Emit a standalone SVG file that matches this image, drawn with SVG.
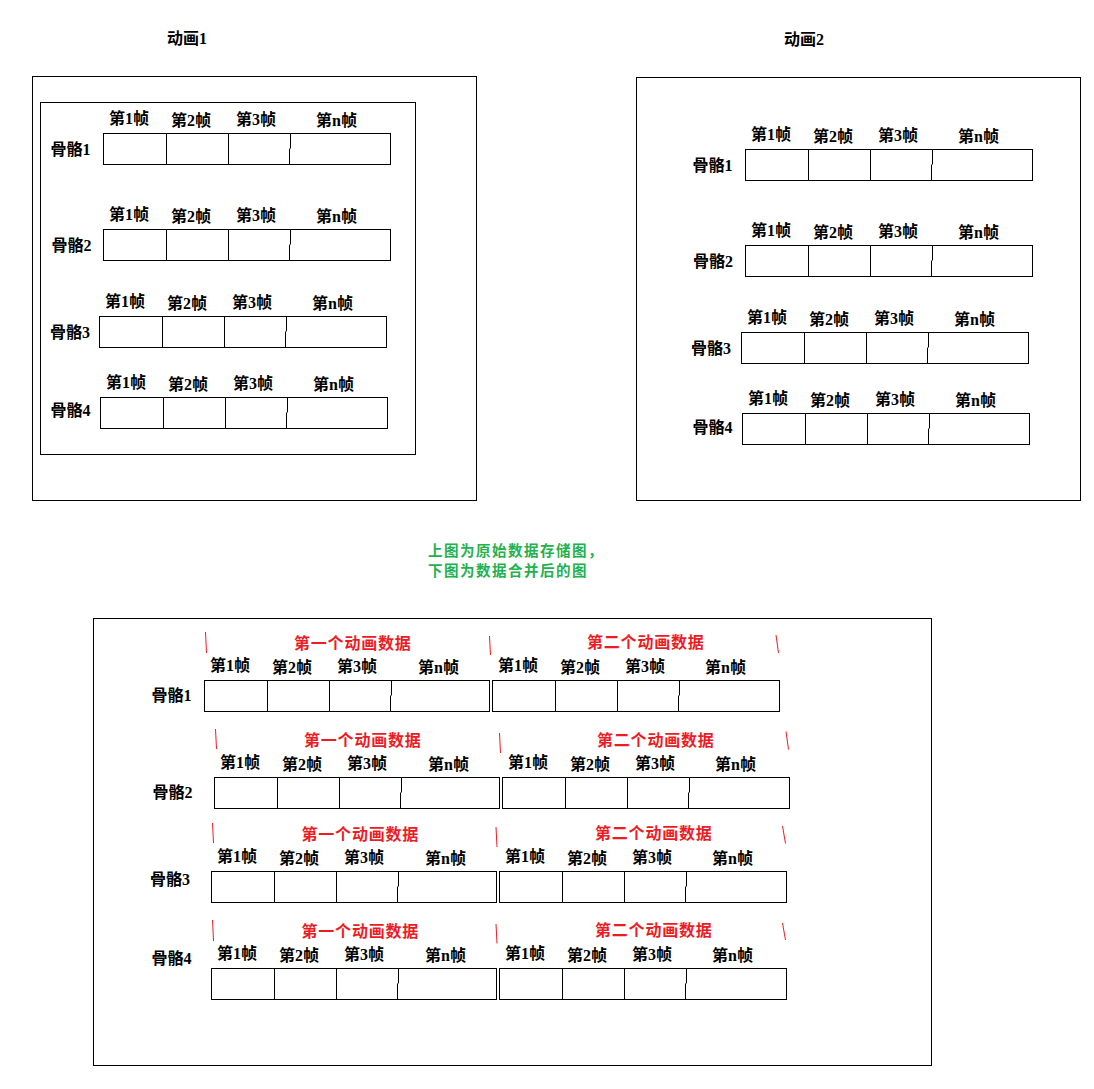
<svg xmlns="http://www.w3.org/2000/svg" width="1094" height="1089" viewBox="0 0 1094 1089">
<style>
.bg{fill:#fff}
.ln{fill:none;stroke:#000;stroke-width:1}
.t{font-family:"Liberation Serif","Noto Sans CJK SC",serif;font-size:16px;font-weight:bold;fill:#000}
.red{font-family:"Liberation Serif","Noto Sans CJK SC",serif;font-size:16px;font-weight:bold;fill:#ed1c24;letter-spacing:0.8px}
.tick{fill:none;stroke:#ed1c24;stroke-width:1}
.green{font-family:"Noto Sans CJK SC",sans-serif;font-size:14.5px;font-weight:bold;fill:#22b14c;letter-spacing:1.5px}
</style>
<rect class="bg" width="1094" height="1089"/>

<g id="anim1">
<text class="t" x="167" y="44">动画1</text>
<rect class="ln" x="32.5" y="76.5" width="444" height="424"/>
<rect class="ln" x="40.5" y="102.5" width="375" height="352"/>
</g>
<g id="anim2">
<text class="t" x="784" y="45">动画2</text>
<rect class="ln" x="636.5" y="77.5" width="444" height="423"/>
</g>
<g id="merged">
<rect class="ln" x="93.5" y="618.5" width="838" height="447"/>
</g>

<g id="bone-labels">
<text class="t" x="50.5" y="155">骨骼1</text>
<text class="t" x="51.5" y="250.5">骨骼2</text>
<text class="t" x="50" y="338">骨骼3</text>
<text class="t" x="50.5" y="416">骨骼4</text>
<text class="t" x="692.5" y="171">骨骼1</text>
<text class="t" x="693" y="266.5">骨骼2</text>
<text class="t" x="691" y="353.5">骨骼3</text>
<text class="t" x="692.5" y="433">骨骼4</text>
<text class="t" x="151.5" y="701">骨骼1</text>
<text class="t" x="152.5" y="797.5">骨骼2</text>
<text class="t" x="150" y="885">骨骼3</text>
<text class="t" x="151.5" y="963.5">骨骼4</text>
</g>

<g id="a1-b1" transform="translate(103.5,133.5)">
<rect class="ln" width="287" height="31"/><path class="ln" d="M63 0V31M125 0V31M187 0V15M186 15V31"/>
<text class="t" x="5.5" y="-9.5">第1帧</text><text class="t" x="67.5" y="-7.5">第2帧</text><text class="t" x="132.5" y="-8.5">第3帧</text><text class="t" x="212.5" y="-8">第n帧</text>
</g>
<g id="a1-b2" transform="translate(103.5,229.5)">
<rect class="ln" width="287" height="31"/><path class="ln" d="M63 0V31M125 0V31M187 0V15M186 15V31"/>
<text class="t" x="5.5" y="-9.5">第1帧</text><text class="t" x="67.5" y="-7.5">第2帧</text><text class="t" x="132.5" y="-8.5">第3帧</text><text class="t" x="212.5" y="-8">第n帧</text>
</g>
<g id="a1-b3" transform="translate(99.5,316.5)">
<rect class="ln" width="287" height="31"/><path class="ln" d="M63 0V31M125 0V31M187 0V15M186 15V31"/>
<text class="t" x="5.5" y="-9.5">第1帧</text><text class="t" x="67.5" y="-7.5">第2帧</text><text class="t" x="132.5" y="-8.5">第3帧</text><text class="t" x="212.5" y="-8">第n帧</text>
</g>
<g id="a1-b4" transform="translate(100.5,397.5)">
<rect class="ln" width="287" height="31"/><path class="ln" d="M63 0V31M125 0V31M187 0V15M186 15V31"/>
<text class="t" x="5.5" y="-9.5">第1帧</text><text class="t" x="67.5" y="-7.5">第2帧</text><text class="t" x="132.5" y="-8.5">第3帧</text><text class="t" x="212.5" y="-8">第n帧</text>
</g>

<g id="a2-b1" transform="translate(745.5,149.5)">
<rect class="ln" width="287" height="31"/><path class="ln" d="M63 0V31M125 0V31M187 0V15M186 15V31"/>
<text class="t" x="5.5" y="-9.5">第1帧</text><text class="t" x="67.5" y="-7.5">第2帧</text><text class="t" x="132.5" y="-8.5">第3帧</text><text class="t" x="212.5" y="-8">第n帧</text>
</g>
<g id="a2-b2" transform="translate(745.5,245.5)">
<rect class="ln" width="287" height="31"/><path class="ln" d="M63 0V31M125 0V31M187 0V15M186 15V31"/>
<text class="t" x="5.5" y="-9.5">第1帧</text><text class="t" x="67.5" y="-7.5">第2帧</text><text class="t" x="132.5" y="-8.5">第3帧</text><text class="t" x="212.5" y="-8">第n帧</text>
</g>
<g id="a2-b3" transform="translate(741.5,332.5)">
<rect class="ln" width="287" height="31"/><path class="ln" d="M63 0V31M125 0V31M187 0V15M186 15V31"/>
<text class="t" x="5.5" y="-9.5">第1帧</text><text class="t" x="67.5" y="-7.5">第2帧</text><text class="t" x="132.5" y="-8.5">第3帧</text><text class="t" x="212.5" y="-8">第n帧</text>
</g>
<g id="a2-b4" transform="translate(742.5,413.5)">
<rect class="ln" width="287" height="31"/><path class="ln" d="M63 0V31M125 0V31M187 0V15M186 15V31"/>
<text class="t" x="5.5" y="-9.5">第1帧</text><text class="t" x="67.5" y="-7.5">第2帧</text><text class="t" x="132.5" y="-8.5">第3帧</text><text class="t" x="212.5" y="-8">第n帧</text>
</g>

<g id="note">
<text class="green" x="428" y="556">上图为原始数据存储图，</text>
<text class="green" x="428" y="576">下图为数据合并后的图</text>
</g>

<g id="m-b1-1" transform="translate(204.5,680.5)">
<rect class="ln" width="285" height="31"/><path class="ln" d="M63 0V31M125 0V31M187 0V15M186 15V31"/>
<text class="t" x="5.5" y="-9.5">第1帧</text><text class="t" x="67.5" y="-7.5">第2帧</text><text class="t" x="132.5" y="-8.5">第3帧</text><text class="t" x="213.5" y="-8">第n帧</text>
</g>
<g id="m-b1-2" transform="translate(492.5,680.5)">
<rect class="ln" width="287" height="31"/><path class="ln" d="M63 0V31M125 0V31M187 0V15M186 15V31"/>
<text class="t" x="5.5" y="-9.5">第1帧</text><text class="t" x="67.5" y="-7.5">第2帧</text><text class="t" x="132.5" y="-8.5">第3帧</text><text class="t" x="212.5" y="-8">第n帧</text>
</g>
<g id="m-b2-1" transform="translate(214.5,777.5)">
<rect class="ln" width="285" height="31"/><path class="ln" d="M63 0V31M125 0V31M187 0V15M186 15V31"/>
<text class="t" x="5.5" y="-9.5">第1帧</text><text class="t" x="67.5" y="-7.5">第2帧</text><text class="t" x="132.5" y="-8.5">第3帧</text><text class="t" x="213.5" y="-8">第n帧</text>
</g>
<g id="m-b2-2" transform="translate(502.5,777.5)">
<rect class="ln" width="287" height="31"/><path class="ln" d="M63 0V31M125 0V31M187 0V15M186 15V31"/>
<text class="t" x="5.5" y="-9.5">第1帧</text><text class="t" x="67.5" y="-7.5">第2帧</text><text class="t" x="132.5" y="-8.5">第3帧</text><text class="t" x="212.5" y="-8">第n帧</text>
</g>
<g id="m-b3-1" transform="translate(211.5,871.5)">
<rect class="ln" width="285" height="31"/><path class="ln" d="M63 0V31M125 0V31M187 0V15M186 15V31"/>
<text class="t" x="5.5" y="-9.5">第1帧</text><text class="t" x="67.5" y="-7.5">第2帧</text><text class="t" x="132.5" y="-8.5">第3帧</text><text class="t" x="213.5" y="-8">第n帧</text>
</g>
<g id="m-b3-2" transform="translate(499.5,871.5)">
<rect class="ln" width="287" height="31"/><path class="ln" d="M63 0V31M125 0V31M187 0V15M186 15V31"/>
<text class="t" x="5.5" y="-9.5">第1帧</text><text class="t" x="67.5" y="-7.5">第2帧</text><text class="t" x="132.5" y="-8.5">第3帧</text><text class="t" x="212.5" y="-8">第n帧</text>
</g>
<g id="m-b4-1" transform="translate(211.5,968.5)">
<rect class="ln" width="285" height="31"/><path class="ln" d="M63 0V31M125 0V31M187 0V15M186 15V31"/>
<text class="t" x="5.5" y="-9.5">第1帧</text><text class="t" x="67.5" y="-7.5">第2帧</text><text class="t" x="132.5" y="-8.5">第3帧</text><text class="t" x="213.5" y="-8">第n帧</text>
</g>
<g id="m-b4-2" transform="translate(499.5,968.5)">
<rect class="ln" width="287" height="31"/><path class="ln" d="M63 0V31M125 0V31M187 0V15M186 15V31"/>
<text class="t" x="5.5" y="-9.5">第1帧</text><text class="t" x="67.5" y="-7.5">第2帧</text><text class="t" x="132.5" y="-8.5">第3帧</text><text class="t" x="212.5" y="-8">第n帧</text>
</g>

<g id="red-labels">
<text class="red" x="294" y="648.5">第一个动画数据</text>
<text class="red" x="587" y="648">第二个动画数据</text>
<text class="red" x="304" y="745.5">第一个动画数据</text>
<text class="red" x="597" y="745.5">第二个动画数据</text>
<text class="red" x="301.5" y="839.5">第一个动画数据</text>
<text class="red" x="595" y="839">第二个动画数据</text>
<text class="red" x="301.5" y="936.5">第一个动画数据</text>
<text class="red" x="595" y="936">第二个动画数据</text>
</g>

<g id="connectors">
<path class="tick" d="M205.5 632L206.5 653M489.5 636L490.5 655M776 635L778.5 653"/>
<path class="tick" d="M215.5 729L216.5 749M499.5 733L500.5 753M786 731.5L788.5 749.5"/>
<path class="tick" d="M212.5 823L213.5 843M496 827L497 847M782.5 826L785.5 843.5"/>
<path class="tick" d="M212.5 920L213.5 941M496 924L497 943.5M782.5 923L785.5 940"/>
</g>
</svg>
